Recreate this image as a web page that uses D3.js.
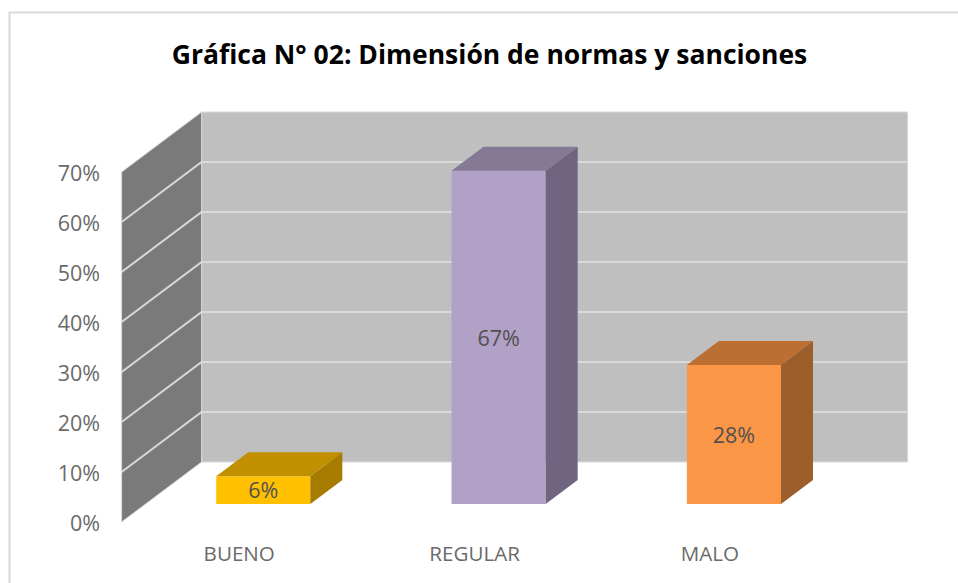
<!DOCTYPE html>
<html><head><meta charset="utf-8">
<script src="https://cdn.jsdelivr.net/npm/d3@7"></script>
<style>html,body{margin:0;padding:0;background:#fff}svg{display:block}text{font-family:"Open Sans","Noto Sans",sans-serif}</style>
</head><body><svg id="c" width="958" height="583"></svg>
<script>
const titleText = "Gráfica N° 02: Dimensión de normas y sanciones";
const categories = ["BUENO", "REGULAR", "MALO"];
const values = [0.0556, 0.6667, 0.2778];
const tickValues = [0, .1, .2, .3, .4, .5, .6, .7];
const frontFill = ["#ffc000", "#b2a1c7", "#fb9646"];
const topFill = ["#c09000", "#857a96", "#bc6f33"];
const sideFill = ["#a67c00", "#6f6580", "#9c5e2a"];

const svg = d3.select("#c");
// oblique projection: depth 0 = front, depth 1 = back wall
const depthX = d3.scaleLinear().domain([0, 1]).range([0, 80]);
const depthY = d3.scaleLinear().domain([0, 1]).range([0, -60]);
const y = d3.scaleLinear().domain([0, .7]).range([522, 172]);
const x = d3.scaleBand().domain(categories).range([121.6, 827.6]);
const P = (px, v, d) => [px + depthX(d), y(v) + depthY(d)];
const poly = pts => "M" + pts.map(p => p.join(",")).join("L") + "Z";

// frame: left and top edges only, the right edge runs off the picture
svg.append("path").attr("d", "M9.5,583V12.5H958").attr("fill", "none").attr("stroke", "#d9d9d9").attr("stroke-width", 2);

// title
svg.append("text").attr("x", 489.5).attr("y", 64).attr("text-anchor", "middle")
  .attr("font-size", 26.5).attr("font-weight", 700).attr("fill", "#000").text(titleText);

const x0 = x.range()[0], x1 = x.range()[1];
// walls
svg.append("path").attr("d", poly([P(x0,0,1),P(x1,0,1),P(x1,.7,1),P(x0,.7,1)]))
  .attr("fill", "#bfbfbf").attr("stroke", "#d9d9d9").attr("stroke-width", 1);
svg.append("path").attr("d", poly([P(x0,0,0),P(x0,0,1),P(x0,.7,1),P(x0,.7,0)]))
  .attr("fill", "#7a7a7a").attr("stroke", "#d9d9d9").attr("stroke-width", 1);

// gridlines
tickValues.filter(t => t > 0 && t < .7).forEach(t => {
  const a = P(x0,t,0), b = P(x0,t,1), c = P(x1,t,1);
  svg.append("path").attr("d", `M${a}L${b}L${c}`).attr("fill", "none").attr("stroke", "#d9d9d9").attr("stroke-width", 2);
});

// tick labels
svg.selectAll(".yt").data(tickValues).join("text").attr("class", "yt")
  .attr("x", 100).attr("y", d => y(d) + 1.5).attr("dy", ".36em").attr("text-anchor", "end")
  .attr("font-size", 21.5).attr("fill", "#6a6a6a").text(d3.format(".0%"));

// category labels
svg.selectAll(".xt").data(categories).join("text").attr("class", "xt")
  .attr("x", d => x(d) + x.bandwidth() / 2).attr("y", 561).attr("text-anchor", "middle")
  .attr("font-size", 20.6).attr("fill", "#6a6a6a").text(d => d);

// bars
const d0 = .3, d1 = .7, frac = .4;
categories.forEach((c, i) => {
  const l = x(c) + x.bandwidth() * (1 - frac) / 2, r = l + x.bandwidth() * frac, v = values[i];
  const g = svg.append("g");
  g.append("path").attr("d", poly([P(l,0,d0),P(r,0,d0),P(r,v,d0),P(l,v,d0)])).attr("fill", frontFill[i]);
  g.append("path").attr("d", poly([P(l,v,d0),P(r,v,d0),P(r,v,d1),P(l,v,d1)])).attr("fill", topFill[i]);
  g.append("path").attr("d", poly([P(r,0,d0),P(r,0,d1),P(r,v,d1),P(r,v,d0)])).attr("fill", sideFill[i]);
  const p = P((l + r) / 2, v / 2, d0);
  g.append("text").attr("x", p[0]).attr("y", p[1] + .5).attr("dy", ".36em").attr("text-anchor", "middle")
    .attr("font-size", 21.5).attr("fill", "#505050").text(d3.format(".0%")(v));
});
</script></body></html>
